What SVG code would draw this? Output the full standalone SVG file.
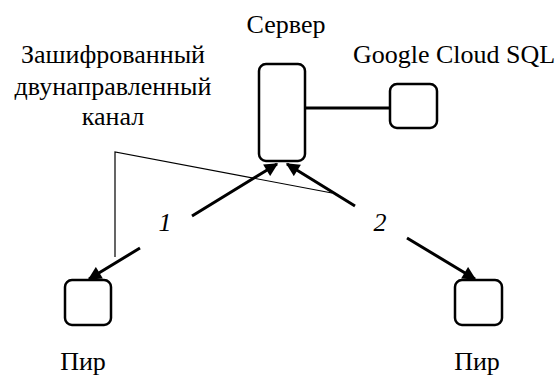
<svg xmlns="http://www.w3.org/2000/svg" width="559" height="376" viewBox="0 0 559 376">
<style>
text{font-family:"Liberation Serif","Times New Roman",serif;font-size:26px;fill:#000;text-anchor:middle}
.box{fill:#fff;stroke:#000;stroke-width:2.5}
.thick{fill:none;stroke:#000;stroke-width:3}
.thin{fill:none;stroke:#000;stroke-width:1.2}
.it{font-style:italic}
</style>
<defs>
<marker id="ah" viewBox="0 0 10 10" refX="9" refY="5" markerWidth="5" markerHeight="4.5" markerUnits="strokeWidth" orient="auto-start-reverse">
<path d="M0,0 L10,5 L0,10 z" fill="#000"/>
</marker>
</defs>
<rect width="559" height="376" fill="#fff"/>
<g id="connectors">
<line class="thick" x1="305" y1="108" x2="391" y2="108"/>
<path class="thick" d="M89,279 L140,248 M192,216 L277,164" marker-start="url(#ah)" marker-end="url(#ah)"/>
<path class="thick" d="M475,279 L407,238 M355,206 L287,164" marker-start="url(#ah)" marker-end="url(#ah)"/>
<polyline class="thin" points="115,257 115,152 332,193"/>
</g>
<g id="server">
<rect class="box" x="259" y="64" width="46" height="97" rx="7"/>
<text x="286" y="33">Сервер</text>
</g>
<g id="db">
<rect class="box" x="390" y="84" width="47" height="44" rx="7"/>
<text x="454" y="63">Google Cloud SQL</text>
</g>
<g id="peer1">
<rect class="box" x="65" y="280" width="46" height="45" rx="7"/>
<text x="83" y="370">Пир</text>
</g>
<g id="peer2">
<rect class="box" x="455" y="280" width="47" height="45" rx="7"/>
<text x="477" y="370">Пир</text>
</g>
<g id="channel-label">
<text x="113" y="63">Зашифрованный</text>
<text x="113" y="95">двунаправленный</text>
<text x="113" y="125">канал</text>
</g>
<g id="labels">
<text class="it" x="165" y="231">1</text>
<text class="it" x="380" y="231">2</text>
</g>
</svg>
